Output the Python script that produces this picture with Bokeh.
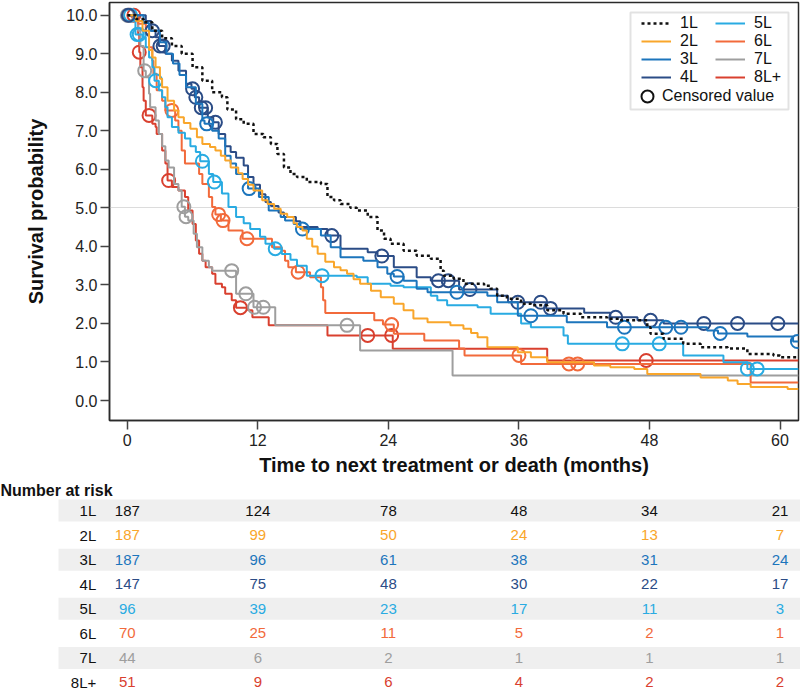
import math
from bokeh.plotting import figure
from bokeh.models import (Range1d, FixedTicker, NumeralTickFormatter, Legend, LegendItem,
                          BoxAnnotation, ColumnDataSource)
from bokeh.layouts import column
from bokeh.embed import file_html
from bokeh.resources import INLINE
from bokeh.core.properties import value

FONT = "Liberation Sans"

# ---------------- data ----------------
NAMES = ["1L", "2L", "3L", "4L", "5L", "6L", "7L", "8L+"]
COLORS = ["#111111", "#F9A62B", "#1C75BC", "#2B4C86", "#29ABE2", "#F26A3B", "#9E9E9E", "#D9402F"]
END_T = 61.7  # end of follow-up window shown

T_1L = [0, 0.8, 1.5, 2.3, 3.2, 4.1, 5.0, 6.0, 6.9, 7.8, 8.7, 9.2, 10.0, 10.7, 11.6, 12.5, 13.2, 13.8, 14.4, 15.0,
        15.6, 16.5, 17.8, 18.4, 19.0, 19.6, 20.5, 21.1, 22.1, 23.0, 23.6, 24.2, 25.4, 26.6, 27.9, 28.8, 29.1, 30.0,
        30.9, 32.8, 33.4, 34.0, 34.9, 36.2, 37.1, 38.6, 40.1, 41.7, 44.1, 45.3, 47.8, 48.1, 49.3, 51.1, 52.7, 55.2,
        57.0, 59.4, 60.0]
S_1L = [10.0, 9.9, 9.82, 9.6, 9.4, 9.2, 9.0, 8.65, 8.3, 8.0, 7.87, 7.55, 7.3, 7.18, 6.92, 6.83, 6.66, 6.4, 6.05, 5.88,
        5.8, 5.67, 5.62, 5.28, 5.2, 5.1, 5.0, 4.93, 4.76, 4.41, 4.2, 4.07, 3.89, 3.76, 3.68, 3.37, 3.24, 3.16,
        3.03, 2.98, 2.9, 2.72, 2.64, 2.51, 2.47, 2.34, 2.25, 2.16, 2.12, 2.08, 1.9, 1.73, 1.6, 1.47, 1.38, 1.35,
        1.21, 1.17, 1.12]
C_1L = []

T_2L = [0, 0.8, 1.4, 2.0, 2.3, 2.6, 3.0, 3.2, 3.7, 4.3, 4.7, 5.2, 5.8, 6.4, 6.9, 7.6, 8.1, 8.6, 9.0, 9.5,
        10.2, 10.6, 11.1, 11.6, 12.4, 12.9, 13.5, 14.1, 14.7, 15.3, 15.6, 16.1, 16.5, 17.0, 17.5, 18.2, 19.0, 19.6,
        20.2, 20.8, 21.4, 22.4, 23.3, 24.5, 25.4, 26.3, 27.6, 29.7, 30.9, 31.6, 32.2, 33.1, 35.9, 37.1, 38.6, 42.9,
        44.4, 46.6, 47.8, 52.7, 55.2, 56.1, 57.3, 60.7]
S_2L = [10.0, 9.85, 9.6, 9.1, 8.9, 8.65, 8.35, 8.13, 7.78, 7.53, 7.35, 7.2, 7.05, 6.83, 6.66, 6.58, 6.49, 6.35,
        6.23, 6.05, 5.9, 5.75, 5.6, 5.45, 5.2, 5.1, 4.98, 4.85, 4.76, 4.6, 4.5, 4.41, 4.2, 4.0, 3.81, 3.6, 3.46,
        3.38, 3.29, 3.15, 3.03, 2.85, 2.68, 2.51, 2.34, 2.13, 2.03, 1.95, 1.86, 1.75, 1.64, 1.38, 1.25, 1.12, 0.99,
        0.91, 0.86, 0.82, 0.69, 0.6, 0.52, 0.43, 0.35, 0.30]
C_2L = []

T_3L = [0, 1.5, 2.0, 3.0, 3.6, 4.2, 4.8, 5.4, 6.3, 6.9, 7.1, 7.8, 8.4, 9.0, 9.5, 10.0, 11.1, 12.1, 13.0, 14.1,
        14.5, 15.3, 15.9, 17.8, 18.7, 19.6, 21.7, 23.0, 23.9, 24.5, 25.4, 26.6, 27.6, 33.1, 34.0, 35.9, 40.4, 44.1,
        53.3, 54.3, 57.0, 61.2]
S_3L = [10.0, 9.8, 9.6, 9.3, 9.0, 8.75, 8.45, 8.13, 7.7, 7.27, 7.18, 7.0, 6.8, 6.35, 6.15, 5.88, 5.5, 5.28, 4.93,
        4.76, 4.67, 4.58, 4.45, 4.28, 3.98, 3.72, 3.63, 3.46, 3.29, 3.22, 3.11, 2.9, 2.81, 2.72, 2.55, 2.2, 2.03,
        1.9, 1.82, 1.74, 1.66, 1.53]
C_3L = [7.3, 11.2, 16.1, 24.8, 30.3, 37.1, 45.7, 49.5, 50.9, 54.5, 61.6]

T_4L = [0, 1.7, 2.2, 2.6, 2.9, 3.5, 4.1, 4.7, 5.4, 5.9, 6.2, 6.6, 7.4, 7.9, 8.4, 9.0, 9.5, 10.0, 10.7, 11.1,
        11.6, 12.2, 12.7, 13.2, 13.9, 14.4, 15.5, 15.9, 17.5, 18.4, 19.6, 22.1, 23.0, 24.5, 26.6, 27.9, 30.5, 34.0,
        35.0, 38.5, 42.0, 44.4, 46.9, 49.3]
S_4L = [10.0, 9.85, 9.6, 9.43, 9.2, 9.0, 8.82, 8.56, 8.22, 8.09, 7.87, 7.6, 7.35, 7.22, 6.92, 6.6, 6.45, 6.3, 6.1,
        5.8, 5.6, 5.35, 5.15, 5.05, 4.88, 4.76, 4.65, 4.5, 4.45, 4.28, 3.94, 3.85, 3.75, 3.46, 3.2, 3.11, 2.88,
        2.72, 2.55, 2.39, 2.28, 2.16, 2.08, 2.0]
C_4L = [0.1, 2.3, 3.0, 3.3, 6.0, 6.3, 6.8, 7.2, 8.1, 18.8, 23.4, 28.6, 29.5, 31.5, 35.9, 38.0, 38.9, 44.9, 48.1,
        53.0, 56.1, 59.8]

T_5L = [0, 0.6, 0.75, 1.4, 1.7, 2.0, 2.3, 2.5, 2.9, 3.2, 3.5, 3.7, 4.1, 4.7, 5.3, 5.8, 6.3, 6.7, 7.5, 7.9,
        8.7, 9.3, 10.0, 10.7, 11.3, 12.2, 12.7, 13.5, 14.2, 15.0, 15.6, 16.5, 21.1, 22.1, 24.2, 25.4, 27.9, 28.5,
        29.4, 32.2, 33.4, 36.2, 37.1, 40.1, 40.5, 51.1, 54.8, 57.0]
S_5L = [10.0, 9.87, 9.5, 9.43, 9.17, 8.9, 8.65, 8.3, 8.05, 7.87, 7.61, 7.35, 7.1, 6.95, 6.8, 6.6, 6.45, 6.21,
        5.88, 5.67, 5.37, 5.02, 4.76, 4.6, 4.45, 4.25, 4.07, 3.94, 3.8, 3.65, 3.5, 3.24, 3.2, 3.03, 2.98, 2.94,
        2.72, 2.6, 2.47, 2.42, 2.25, 2.0, 1.9, 1.69, 1.47, 1.17, 0.99, 0.82]
C_5L = [0.3, 0.9, 1.1, 2.6, 6.9, 8.0, 13.6, 17.9, 45.5, 48.9, 57.0, 57.9]

T_6L = [0, 0.4, 1.0, 1.7, 2.0, 2.3, 2.4, 2.7, 3.2, 3.5, 4.4, 4.7, 5.0, 5.3, 6.6, 6.9, 7.5, 7.8, 8.1, 8.6,
        9.3, 10.6, 13.3, 14.2, 14.5, 14.8, 15.5, 16.8, 17.8, 18.0, 18.2, 22.7, 23.5, 24.5, 27.3, 30.5, 31.0, 36.2,
        57.3]
S_6L = [10.0, 9.95, 9.78, 9.5, 9.17, 8.82, 8.48, 8.05, 7.78, 7.53, 7.27, 7.0, 6.49, 6.15, 5.88, 5.62, 5.28, 5.02,
        4.83, 4.67, 4.41, 4.2, 3.98, 3.89, 3.63, 3.46, 3.33, 3.2, 2.94, 2.6, 2.27, 2.08, 1.97, 1.73, 1.56, 1.35,
        1.17, 0.95, 0.47]
C_6L = [0.2, 4.1, 8.4, 8.8, 11.0, 15.7, 24.3, 36.0, 40.6, 41.4]

T_7L = [0, 1.0, 1.2, 1.5, 1.7, 2.0, 2.1, 2.6, 2.9, 3.2, 3.5, 3.8, 4.3, 4.7, 5.0, 5.3, 5.6, 6.1, 6.4, 6.9,
        7.5, 7.8, 10.0, 11.6, 13.6, 21.4, 29.9]
S_7L = [10.0, 9.6, 9.2, 8.56, 8.39, 7.96, 7.61, 7.27, 6.92, 6.6, 6.23, 6.05, 5.62, 5.45, 5.03, 4.77, 4.67, 4.33,
        3.98, 3.63, 3.46, 3.37, 2.77, 2.42, 1.95, 1.3, 0.65]
C_7L = [0.0, 1.6, 5.2, 5.4, 9.6, 10.9, 11.7, 12.5, 20.2]

T_8L = [0, 0.75, 1.0, 1.1, 1.2, 1.4, 1.5, 1.7, 2.3, 2.6, 2.7, 3.2, 3.5, 3.7, 4.1, 4.7, 5.3, 5.6, 6.0, 6.3,
        6.6, 6.9, 7.2, 7.8, 8.1, 8.7, 9.0, 9.6, 10.0, 11.1, 11.5, 13.0, 18.4, 24.4, 38.6]
S_8L = [10.0, 9.9, 9.5, 9.04, 8.65, 8.13, 7.78, 7.4, 7.18, 7.1, 6.92, 6.49, 6.15, 5.71, 5.54, 5.45, 5.28, 4.93,
        4.58, 4.15, 3.81, 3.63, 3.46, 3.29, 3.03, 2.94, 2.77, 2.6, 2.41, 2.34, 2.16, 1.95, 1.69, 1.34, 1.04]
C_8L = [0.6, 1.1, 2.0, 3.8, 10.4, 22.1, 24.3, 47.7]

RISK_MONTHS = [0, 12, 24, 36, 48, 60]
R_1L = [187, 124, 78, 48, 34, 21]
R_2L = [187, 99, 50, 24, 13, 7]
R_3L = [187, 96, 61, 38, 31, 24]
R_4L = [147, 75, 48, 30, 22, 17]
R_5L = [96, 39, 23, 17, 11, 3]
R_6L = [70, 25, 11, 5, 2, 1]
R_7L = [44, 6, 2, 1, 1, 1]
R_8L = [51, 9, 6, 4, 2, 2]

X_TICKS = [0, 12, 24, 36, 48, 60]
Y_TICKS = [0, 1, 2, 3, 4, 5, 6, 7, 8, 9, 10]

TIMES = [T_1L, T_2L, T_3L, T_4L, T_5L, T_6L, T_7L, T_8L]
SURVS = [S_1L, S_2L, S_3L, S_4L, S_5L, S_6L, S_7L, S_8L]
CENS = [C_1L, C_2L, C_3L, C_4L, C_5L, C_6L, C_7L, C_8L]
RISKS = [R_1L, R_2L, R_3L, R_4L, R_5L, R_6L, R_7L, R_8L]


def surv_at(ts, ss, t):
    v = ss[0]
    for ti, si in zip(ts, ss):
        if ti <= t:
            v = si
    return v


def no_frame_align(fig):
    if "frame_align" in fig.properties():
        fig.frame_align = False


# ---------------- layout constants (pixels) ----------------
W = 800
H1, H2 = 480, 215
LEFT, RIGHT, TOP, BOTTOM = 109, 2, 2, 60
FRAME_W = W - LEFT - RIGHT
FRAME_H = H1 - TOP - BOTTOM
X_START, X_END = -1.636, END_T
Y_START, Y_END = -0.519, 10.33

p = figure(width=W, height=H1, x_range=Range1d(X_START, X_END), y_range=Range1d(Y_START, Y_END),
           output_backend="svg", toolbar_location=None,
           min_border_left=LEFT, min_border_right=RIGHT, min_border_top=TOP, min_border_bottom=BOTTOM)
no_frame_align(p)
p.outline_line_color = "#2a2a2a"
p.outline_line_width = 1.5
p.xgrid.visible = False
p.ygrid.ticker = FixedTicker(ticks=[5])
p.ygrid.grid_line_color = "#dcdcdc"
p.ygrid.grid_line_width = 1

p.xaxis.ticker = FixedTicker(ticks=X_TICKS)
p.yaxis.ticker = FixedTicker(ticks=Y_TICKS)
p.yaxis.formatter = NumeralTickFormatter(format="0.0")
for ax in (p.xaxis[0], p.yaxis[0]):
    ax.axis_line_color = "#2a2a2a"
    ax.axis_line_width = 1.5
    ax.major_tick_line_color = "#444444"
    ax.major_tick_line_width = 1.5
    ax.major_tick_out = 9
    ax.major_tick_in = 0
    ax.minor_tick_line_color = None
    ax.major_label_text_font = FONT
    ax.major_label_text_font_size = "16px"
    ax.major_label_text_color = "#222222"
    ax.axis_label_text_font = FONT
    ax.axis_label_text_font_size = "20px"
    ax.axis_label_text_font_style = "bold"
    ax.axis_label_text_color = "#111111"
p.xaxis.axis_label = "Time to next treatment or death (months)"
p.yaxis.axis_label = "Survival probability"
p.xaxis.major_label_standoff = 4
p.xaxis.axis_label_standoff = 5
p.yaxis.major_label_standoff = 3
p.yaxis.axis_label_standoff = 16

renderers = {}
for i in reversed(range(len(NAMES))):
    ts = TIMES[i] + [END_T]
    ss = SURVS[i] + [SURVS[i][-1]]
    if NAMES[i] == "1L":
        r = p.step(ts, ss, mode="after", line_color=COLORS[i], line_width=2.5, line_dash="3 3")
    else:
        r = p.step(ts, ss, mode="after", line_color=COLORS[i], line_width=2)
    renderers[NAMES[i]] = r
    if CENS[i]:
        cy = [surv_at(TIMES[i], SURVS[i], c) for c in CENS[i]]
        p.scatter(CENS[i], cy, marker="circle", size=13, line_color=COLORS[i], line_width=2,
                  fill_alpha=0)

# renderer that only feeds the legend's "Censored value" glyph (no visible point)
cens_r = p.scatter(x=[math.nan], y=[math.nan], marker="circle", size=12, line_color="#111111",
                   line_width=2, fill_alpha=0)

# legend frame
p.add_layout(BoxAnnotation(left=630, right=788, top=12, bottom=109,
                           left_units="canvas", right_units="canvas", top_units="canvas", bottom_units="canvas",
                           fill_alpha=0, line_color="#a0a0a0", line_width=2, level="overlay"))


def make_legend(items, loc, gw, gh):
    return Legend(items=items, location=loc, orientation="vertical",
                  label_text_font=FONT, label_text_font_size="16px", label_text_color="#111111",
                  label_height=18, glyph_height=gh, glyph_width=gw, label_standoff=9,
                  spacing=0, padding=0, margin=0,
                  border_line_alpha=0, background_fill_alpha=0)


leg_a = make_legend([LegendItem(label=n, renderers=[renderers[n]]) for n in NAMES[:4]],
                    (532, FRAME_H - 84), 30, 18)
leg_b = make_legend([LegendItem(label=n, renderers=[renderers[n]]) for n in NAMES[4:]],
                    (606, FRAME_H - 84), 30, 18)
leg_c = make_legend([LegendItem(label="Censored value", renderers=[cens_r])],
                    (523, FRAME_H - 109), 30, 30)
leg_c.label_standoff = 0
for lg in (leg_a, leg_b, leg_c):
    p.add_layout(lg, "center")

# ---------------- number at risk table ----------------
t_scale = FRAME_W / (X_END - X_START)
x2_start = X_START - LEFT / t_scale
x2_end = X_START + (W - LEFT) / t_scale
ROW_PX = 24.57
FIRST_ROW_PX = 30
TITLE_PX = 10
y2_bottom = (H2 - FIRST_ROW_PX) / ROW_PX
y2_top = -FIRST_ROW_PX / ROW_PX

p2 = figure(width=W, height=H2, x_range=Range1d(x2_start, x2_end), y_range=Range1d(y2_bottom, y2_top),
            output_backend="svg", toolbar_location=None, min_border=0)
no_frame_align(p2)
p2.axis.visible = False
p2.grid.visible = False
p2.outline_line_color = None

band_rows = [i for i in range(len(NAMES)) if i % 2 == 0]
band_left = x2_start + 58 / t_scale
p2.hbar(y=band_rows, left=band_left, right=x2_end, height=22 / ROW_PX, fill_color="#efefef", line_color=None)

p2.text(x=[0] * len(NAMES), y=list(range(len(NAMES))), text=NAMES, x_offset=-31,
        text_align="right", text_baseline="middle", text_font=value(FONT), text_font_size="15px",
        text_color="#111111")

xs, ys, txt, cols = [], [], [], []
for i, row in enumerate(RISKS):
    for m, n in zip(RISK_MONTHS, row):
        xs.append(m)
        ys.append(i)
        txt.append(str(n))
        cols.append(COLORS[i])
src = ColumnDataSource(dict(x=xs, y=ys, text=txt, color=cols))
p2.text(x="x", y="y", text="text", text_color="color", source=src, text_align="center",
        text_baseline="middle", text_font=value(FONT), text_font_size="15px")

p2.text(x=[x2_start], y=[0], text=["Number at risk"], y_offset=TITLE_PX - FIRST_ROW_PX, text_align="left",
        text_baseline="middle", text_font=value(FONT), text_font_size="16px", text_font_style="bold",
        text_color="#111111")

layout = column(p, p2, spacing=0)
open("out.html", "w").write(file_html(layout, INLINE))
